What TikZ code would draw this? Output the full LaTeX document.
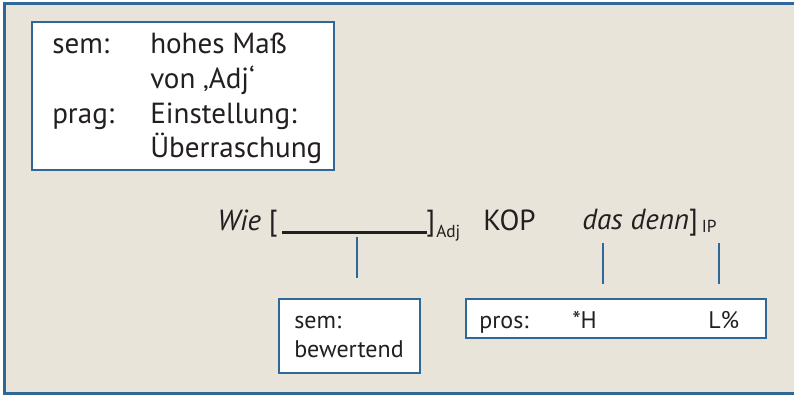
\documentclass[tikz,border=0pt]{standalone}
\usepackage{fontspec}
\setmainfont{PT Sans}
\definecolor{frameblue}{HTML}{2F6896}
\definecolor{bgbeige}{HTML}{E8E4D9}
\definecolor{ink}{HTML}{231F20}
\begin{document}
\begin{tikzpicture}[x=0.75pt,y=-0.75pt,
  boxa/.style={draw=frameblue, fill=white, line width=2pt, inner sep=0pt},
  big/.style={anchor=base west, inner sep=0pt, text=ink, font=\fontsize{21.8}{26}\selectfont},
  small/.style={anchor=base west, inner sep=0pt, text=ink, font=\fontsize{18}{21}\selectfont},
  tiny/.style={anchor=base west, inner sep=0pt, text=ink, font=\fontsize{13}{15}\selectfont},
  tick/.style={draw=frameblue, line width=2.2pt}]
\useasboundingbox (0,0) rectangle (794,396);
% background and frame
\fill[bgbeige] (4.5,3.5) rectangle (794,393.5);
\draw[frameblue, line width=2.3pt] (794,3.5) -- (4.5,3.5) -- (4.5,393.5) -- (794,393.5);
% top box
\node[boxa, minimum width=302*0.75pt, minimum height=148*0.75pt] (topbox) at (183,96) {};
\node[big] (sem1) at (52,54) {sem:};
\node[big] (sem1v) at (150,54) {hohes Maß};
\node[big] (sem2v) at (150,88.5) {von ‚Adj‘};
\node[big] (prag) at (52,123) {prag:};
\node[big] (prag1) at (150,123) {Einstellung:};
\node[big] (prag2) at (150,157.5) {Überraschung};
% middle line
\node[big] (wie) at (217,230) {\textit{Wie} [};
\coordinate (ula) at (282,232.5);
\coordinate (ulb) at (427,232.5);
\draw[ink, line width=1.7pt] (ula) -- (ulb);
\node[big] (rb1) at (426,230) {]};
\node[tiny] (adj) at (436,237) {Adj};
\node[big] (kop) at (483,230) {KOP};
\node[big] (dd) at (582,229) {\textit{das denn}]};
\node[tiny, anchor=base west] (ip) at ([xshift=2.5pt,yshift=-2.5pt]dd.base east) {IP};
% ticks
\coordinate (t1a) at (357,237); \coordinate (t1b) at (357,278);
\coordinate (t2a) at (603,243); \coordinate (t2b) at (603,284);
\coordinate (t3a) at (719,243); \coordinate (t3b) at (719,284);
\draw[tick] (t1a) -- (t1b);
\draw[tick] (t2a) -- (t2b);
\draw[tick] (t3a) -- (t3b);
% bottom boxes
\node[boxa, minimum width=141*0.75pt, minimum height=74*0.75pt] (sembox) at (349.5,336) {};
\node[small] (sem2) at (294,328) {sem:};
\node[small] (bew) at (294,357) {bewertend};
\node[boxa, minimum width=300*0.75pt, minimum height=39*0.75pt] (prosbox) at (616,318.5) {};
\node[small] (pros) at (479,328) {pros:};
\node[small] (h) at (572,328) {*H};
\node[small] (l) at (708,328) {L\%};
\end{tikzpicture}
\end{document}
